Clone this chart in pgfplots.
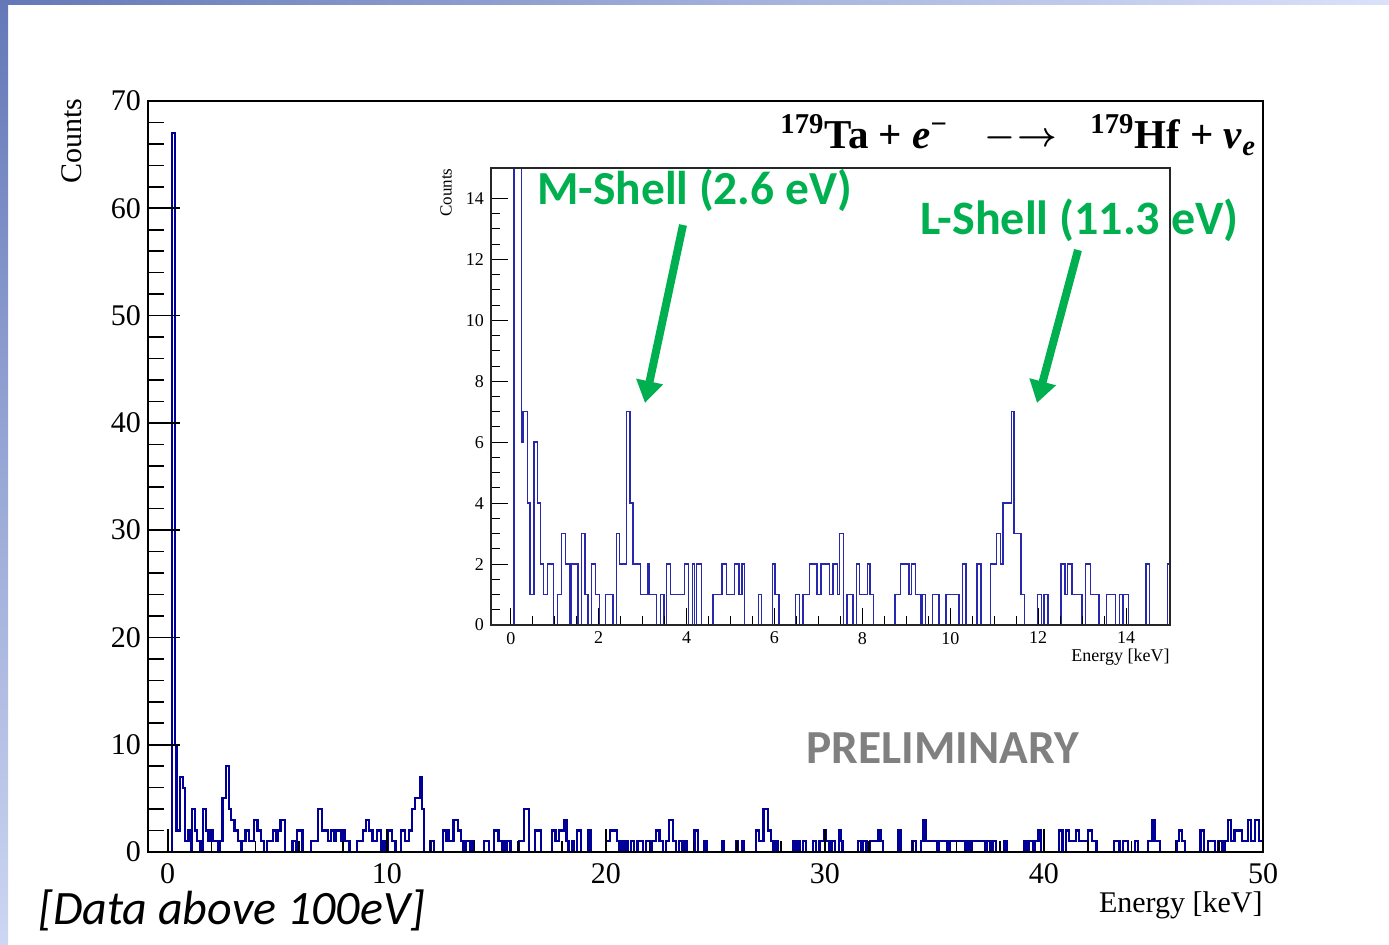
\documentclass[border=0pt]{standalone}
\usepackage{fontspec}
\setmainfont{Liberation Serif}
\newfontfamily\calibri{Carlito}
\usepackage{pgfplots}
\usepackage{pgfplotstable}
\pgfplotsset{compat=1.18}
\usetikzlibrary{arrows.meta}

\definecolor{histblue}{RGB}{0,0,153}
\definecolor{insetblue}{RGB}{40,40,175}
\definecolor{shellgreen}{RGB}{0,176,80}
\definecolor{prelimgray}{RGB}{128,128,128}
\definecolor{slideA}{RGB}{100,120,184}
\definecolor{slideB}{RGB}{205,214,242}
\definecolor{slideC}{RGB}{218,226,250}

% full spectrum, left bin edge [keV] and counts
\pgfplotstableread{
x y
0 0
0.2 67
0.35 10
0.4 2
0.55 7
0.7 6
0.8 1
0.95 2
1.05 0
1.1 4
1.25 2
1.35 1
1.5 0
1.6 4
1.75 2
1.85 1
1.95 2
2.05 1
2.3 0
2.4 1
2.5 5
2.65 8
2.8 4
2.9 3
3.05 2
3.2 1
3.35 0
3.4 1
3.55 2
3.7 1
3.95 3
4.1 2
4.25 1
4.4 0
4.55 1
4.8 2
4.95 1
5.05 2
5.15 3
5.35 0
5.7 1
5.85 0
5.9 2
6.15 0
6.55 1
6.85 4
7.05 2
7.3 1
7.45 2
7.6 1
7.7 2
7.9 1
8.0 2
8.1 1
8.3 0
8.65 1
8.9 2
9.05 3
9.2 2
9.35 1
9.55 2
9.75 0
9.85 1
9.95 0
10.05 2
10.25 1
10.4 0
10.65 2
10.85 1
11.0 2
11.15 4
11.3 5
11.5 7
11.6 4
11.7 0
12.0 1
12.15 0
12.55 2
12.7 1
12.75 2
12.85 1
13.05 3
13.25 2
13.4 1
13.5 0
13.6 1
13.8 0
13.9 1
14.0 0
14.45 1
14.65 0
14.9 2
15.1 1
15.25 0
15.35 1
15.45 0
15.5 1
15.65 0
16.05 1
16.25 4
16.5 0
16.75 2
17.05 0
17.55 2
17.7 1
17.85 2
18.1 3
18.2 1
18.3 0
18.45 1
18.55 0
18.7 2
18.85 0
19.2 2
19.3 0
20.0 1
20.2 2
20.5 1
20.6 0
20.7 1
20.8 0
20.9 1
21.0 0
21.15 1
21.3 0
21.45 1
21.7 0
21.85 1
22.0 0
22.1 1
22.3 2
22.45 1
22.6 0
22.75 1
22.9 3
23.05 1
23.2 0
23.35 1
23.5 0
23.6 1
23.7 0
24.05 2
24.2 0
24.5 1
24.6 0
25.3 1
25.4 0
25.95 1
26.05 0
26.2 1
26.3 0
26.85 2
27.0 1
27.2 4
27.4 2
27.55 1
27.65 0
27.75 1
27.85 0
28.55 1
28.65 0
28.75 1
28.85 0
29.0 1
29.15 0
29.45 1
29.6 0
29.75 1
29.95 2
30.05 1
30.2 0
30.3 1
30.45 0
30.65 2
30.75 1
30.8 0
31.5 1
31.65 0
31.75 1
31.9 0
32.05 1
32.45 2
32.55 1
32.65 0
33.35 2
33.45 0
34.0 1
34.15 0
34.4 1
34.5 3
34.6 1
35.1 0
35.2 1
35.6 0
35.7 1
36.4 0
36.5 1
36.6 0
36.7 1
37.3 0
37.4 1
37.55 0
37.65 1
37.8 0
38.2 1
38.3 0
39.1 1
39.2 0
39.3 1
39.5 0
39.6 1
39.75 2
39.85 0
40.7 2
40.85 0
41.0 2
41.15 1
41.45 2
41.6 1
42.0 2
42.2 1
42.4 0
43.2 1
43.45 0
43.6 1
43.85 0
44.15 1
44.3 0
44.75 1
44.95 3
45.05 1
45.3 0
46.05 1
46.15 2
46.3 1
46.45 0
47.15 2
47.3 0
47.5 1
47.8 0
47.95 1
48.15 0
48.25 1
48.4 3
48.55 1
48.7 2
49.05 1
49.3 3
49.45 1
49.65 3
49.8 1
50 1
}\maindata

% inset, 0-15 keV
\pgfplotstableread{
x y
-0.45 0
0.07 67
0.24 6
0.28 7
0.375 4
0.44 1
0.53 6
0.605 4
0.67 2
0.75 1
0.84 2
0.97 0
1.06 1
1.15 3
1.25 2
1.33 0
1.37 2
1.53 0
1.61 3
1.69 1
1.76 0
1.84 2
1.93 1
2.02 0
2.15 1
2.33 0
2.41 3
2.47 2
2.63 7
2.71 4
2.78 2
2.95 1
3.12 2
3.16 1
3.32 0
3.41 1
3.49 0
3.55 2
3.64 1
3.95 2
4.04 0
4.13 2
4.18 0
4.23 2
4.34 0
4.6 1
4.81 2
4.91 1
5.09 2
5.19 1
5.26 2
5.32 0
5.64 1
5.71 0
5.95 2
6.01 1
6.10 0
6.48 1
6.57 0
6.65 1
6.80 2
6.97 1
7.06 2
7.25 1
7.33 2
7.43 1
7.48 3
7.57 0
7.65 1
7.79 0
7.86 2
7.94 1
8.11 2
8.17 1
8.26 0
8.74 1
8.87 2
9.06 1
9.12 2
9.21 1
9.33 0
9.36 1
9.43 0
9.59 1
9.74 0
9.90 1
10.20 0
10.28 2
10.36 0
10.61 2
10.70 0
10.92 2
11.05 3
11.14 2
11.20 4
11.39 7
11.45 3
11.61 1
11.69 0
11.99 1
12.07 0
12.13 1
12.22 0
12.52 2
12.61 1
12.67 2
12.77 1
13.00 0
13.08 2
13.19 1
13.38 0
13.55 1
13.76 0
13.85 1
13.92 0
13.94 1
14.06 0
14.45 2
14.54 0
14.94 2
15 2
}\insetdata

\pgfplotsset{
  rootframe/.style={
    scale only axis,
    width=557.5pt, height=375.5pt,
    at={(74pt,-426pt)}, anchor=south west,
    xmin=-0.9, xmax=50, ymin=0, ymax=70,
    tick align=inside, tick pos=left,
    axis line style={line width=1pt},
    every tick/.style={black, line width=0.8pt},
    tick label style={font=\fontsize{15}{15}\selectfont},
    xticklabel style={yshift=-2pt},
    /pgf/number format/assume math mode=true,
  }
}

\begin{document}
\begin{tikzpicture}
\useasboundingbox (0,0) rectangle (694.5pt,-472.5pt);
\fill[white] (0,0) rectangle (694.5pt,-472.5pt);
\shade[top color=slideA, bottom color=slideB] (0,0) rectangle (4pt,-472.5pt);
\shade[left color=slideA, right color=slideC] (0,0) rectangle (694.5pt,-2.5pt);

% main histogram, x ticks
\begin{axis}[rootframe,
  xtick={0,10,...,50}, minor x tick num=4, ytick=\empty,
  major tick length=11.5pt, minor tick length=5.5pt,
  axis on top]
\addplot[const plot, histblue, line width=1.1pt] table[x=x, y=y] {\maindata};
\end{axis}
% same frame, y ticks
\begin{axis}[rootframe,
  ytick={0,10,...,70}, minor y tick num=4, xtick=\empty,
  major tick length=16pt, minor tick length=8pt]
\end{axis}

% inset
\begin{axis}[
  scale only axis,
  width=339.5pt, height=228.5pt,
  at={(245.5pt,-312.5pt)}, anchor=south west,
  xmin=-0.45, xmax=15, ymin=0, ymax=15,
  xtick={0,2,...,14}, ytick={0,2,...,14},
  minor x tick num=3, minor y tick num=3,
  tick align=inside, tick pos=left,
  major tick length=8.5pt, minor tick length=4.5pt,
  axis background/.style={fill=white},
  axis line style={line width=0.6pt, black!85},
  every tick/.style={black, line width=0.5pt},
  tick label style={font=\fontsize{9}{9}\selectfont},
  /pgf/number format/assume math mode=true,
  axis on top]
\addplot[const plot, insetblue, line width=0.7pt] table[x=x, y=y] {\insetdata};
\end{axis}

% axis titles
\node[rotate=90, anchor=east, inner sep=0pt, font=\fontsize{15}{15}\selectfont] at (36pt,-49pt) {Counts};
\node[anchor=base east, inner sep=0pt, font=\fontsize{15}{15}\selectfont] at (631.5pt,-456.5pt) {Energy [keV]};
\node[rotate=90, anchor=east, inner sep=0pt, font=\fontsize{8.5}{8.5}\selectfont] at (223pt,-84pt) {Counts};
\node[anchor=base east, inner sep=0pt, font=\fontsize{9}{9}\selectfont] at (585pt,-331pt) {Energy [keV]};

% reaction
\node[anchor=base west, inner sep=0pt, font=\bfseries\fontsize{20.5}{21}\selectfont] at (390pt,-74.5pt)
  {\textsuperscript{179}Ta + \textit{e}\textsuperscript{−}};
\node[anchor=west, inner sep=0pt, font=\fontsize{16}{16}\selectfont\boldmath] at (492pt,-69pt) {$\mathord{-}\mkern1mu{\rightarrow}$};
\node[anchor=base west, inner sep=0pt, font=\bfseries\fontsize{20.5}{21}\selectfont] at (545pt,-74.5pt)
  {\textsuperscript{179}Hf + \textit{ν}\textsubscript{\textit{e}}};

% shell annotations
\node[anchor=base west, inner sep=0pt, shellgreen, font=\calibri\bfseries\fontsize{23.7}{24}\selectfont] at (268.5pt,-102.5pt) {M-Shell (2.6 eV)};
\node[anchor=base west, inner sep=0pt, shellgreen, font=\calibri\bfseries\fontsize{24}{24}\selectfont] at (460pt,-117.5pt) {L-Shell (11.3 eV)};
\draw[shellgreen, line width=4pt, -{Triangle[length=11pt, width=13pt]}] (341.5pt,-112.5pt) -- (322.5pt,-201.5pt);
\draw[shellgreen, line width=4pt, -{Triangle[length=11pt, width=13pt]}] (539pt,-125pt) -- (518.5pt,-201.5pt);

\node[anchor=base west, inner sep=0pt, prelimgray, font=\calibri\bfseries\fontsize{23.7}{24}\selectfont] at (403pt,-382pt) {PRELIMINARY};
\node[anchor=base west, inner sep=0pt, font=\calibri\itshape\fontsize{24}{24}\selectfont] at (19pt,-462.5pt) {[Data above 100eV]};
\end{tikzpicture}
\end{document}
